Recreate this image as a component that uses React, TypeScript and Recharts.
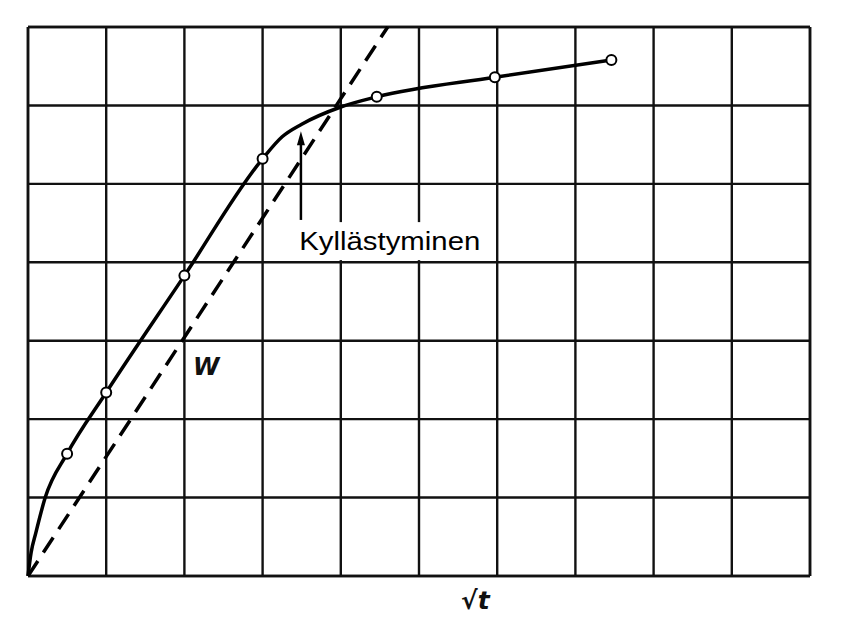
import {
  ComposedChart,
  Line,
  Scatter,
  XAxis,
  YAxis,
  CartesianGrid,
  ReferenceLine,
  ReferenceDot,
} from "recharts";

// grid ticks
const xTicks = [0, 1, 2, 3, 4, 5, 6, 7, 8, 9, 10];
const yTicks = [0, 1, 2, 3, 4, 5, 6, 7];

// measured points (open circles)
const measX = [0.5, 1.0, 2.0, 3.0, 4.46, 5.97, 7.46];
const measY = [1.56, 2.34, 3.83, 5.32, 6.11, 6.36, 6.58];

// solid curve as traced on the picture
const curveX = [0, 0.04, 0.1, 0.22, 0.5, 1.0, 2.0, 3.0, 3.25, 3.5, 4.0, 4.46, 5.97, 7.46];
const curveY = [0, 0.3, 0.55, 1.0, 1.56, 2.34, 3.83, 5.32, 5.6, 5.76, 5.98, 6.11, 6.36, 6.58];

// dashed straight line from origin
const dashX = [0, 4.6];
const dashY = [0, 7.0];

const measured = measX.map((x, i) => ({ x, y: measY[i] }));
const curve = curveX.map((x, i) => ({ x, y: curveY[i] }));
const dashed = dashX.map((x, i) => ({ x, y: dashY[i] }));

const Circle = (p: any) => (
  <circle cx={p.cx} cy={p.cy} r={5} fill="#fff" stroke="#000" strokeWidth={2} />
);

const Arrowhead = (p: any) => (
  <path
    d={`M${p.cx},${p.cy - 4} L${p.cx - 4},${p.cy + 10} L${p.cx + 4},${p.cy + 10} Z`}
    fill="#000"
  />
);

const BoxLabel = (p: any) => {
  const { viewBox } = p;
  const cx = viewBox.x + viewBox.width / 2;
  const cy = viewBox.y + viewBox.height / 2;
  return (
    <g>
      <rect x={cx - 94} y={cy - 19} width={188} height={38} fill="#fff" />
      <text
        x={cx - 90}
        y={cy + 9}
        fontFamily="'Liberation Sans', Arial, sans-serif"
        fontSize={26}
        textLength={181}
        lengthAdjust="spacingAndGlyphs"
        fill="#000"
      >
        Kyllästyminen
      </text>
    </g>
  );
};

export default function App() {
  return (
    <div style={{ position: "absolute", left: 0, top: 0, background: "#fff" }}>
      <ComposedChart
        width={851}
        height={621}
        margin={{ top: 27, right: 41, left: 28, bottom: 45 }}
      >
        <CartesianGrid stroke="#111" strokeWidth={2.4} />
        <XAxis
          type="number"
          dataKey="x"
          domain={[0, 10]}
          ticks={xTicks}
          hide
        />
        <YAxis type="number" dataKey="y" domain={[0, 7]} ticks={yTicks} hide />
        <ReferenceLine x={0} stroke="#111" strokeWidth={2.6} />
        <ReferenceLine x={10} stroke="#111" strokeWidth={2.6} />
        <ReferenceLine y={0} stroke="#111" strokeWidth={2.6} />
        <ReferenceLine y={7} stroke="#111" strokeWidth={2.6} />
        <Line
          data={dashed}
          dataKey="y"
          type="linear"
          stroke="#000"
          strokeWidth={3.5}
          strokeDasharray="18 10"
          dot={false}
          isAnimationActive={false}
        />
        <Line
          data={curve}
          dataKey="y"
          type="monotone"
          stroke="#000"
          strokeWidth={3.5}
          dot={false}
          isAnimationActive={false}
        />
        <ReferenceLine
          segment={[
            { x: 3.49, y: 4.54 },
            { x: 3.49, y: 5.5 },
          ]}
          stroke="#000"
          strokeWidth={2.5}
        />
        <ReferenceDot x={3.49} y={5.62} r={0} shape={Arrowhead} ifOverflow="visible" />
        <Scatter
          data={measured}
          dataKey="y"
          shape={Circle}
          isAnimationActive={false}
        />
        <ReferenceDot
          x={4.62}
          y={4.27}
          r={0}
          fill="none"
          stroke="none"
          label={<BoxLabel />}
          ifOverflow="visible"
        />
        <ReferenceDot
          x={2.28}
          y={2.67}
          r={0}
          fill="none"
          stroke="none"
          ifOverflow="visible"
          label={{
            value: "W",
            position: "center",
            fontSize: 24,
            fontStyle: "italic",
            fontWeight: "bold",
            fontFamily: "'DejaVu Sans', sans-serif",
            fill: "#111",
          }}
        />
        <ReferenceDot
          x={5.72}
          y={-0.31}
          r={0}
          fill="none"
          stroke="none"
          ifOverflow="visible"
          label={{
            value: "√t",
            position: "center",
            fontSize: 25,
            fontStyle: "italic",
            fontWeight: "bold",
            fontFamily: "'DejaVu Sans', sans-serif",
            fill: "#111",
          }}
        />
      </ComposedChart>
    </div>
  );
}
